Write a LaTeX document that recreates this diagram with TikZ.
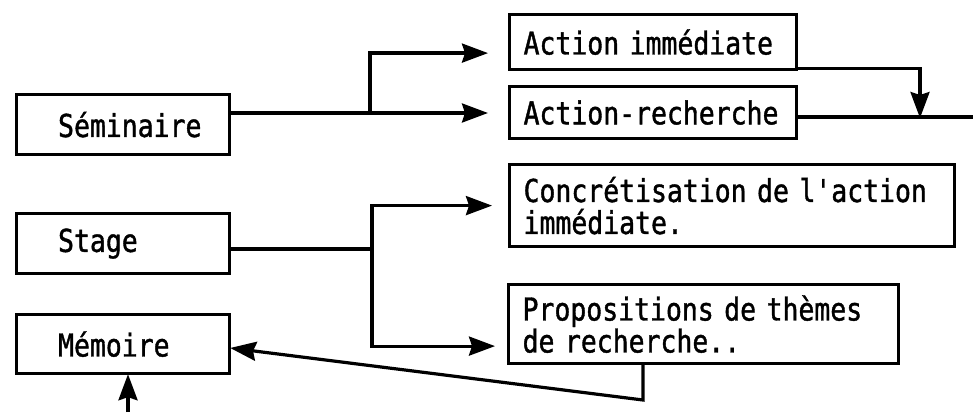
\documentclass[tikz,border=0pt]{standalone}
\usepackage{fontspec}
\newfontfamily\typo[FakeStretch=0.84,FakeBold=1.2]{DejaVu Sans Mono}
\usetikzlibrary{arrows.meta}
\tikzset{
  box/.style={draw, line width=3.2pt, anchor=north west, align=left,
    font=\typo\fontsize{31.5}{32}\selectfont},
  leftbox/.style={box, minimum width=213pt, minimum height=60pt,
    text width=170pt, inner xsep=21.5pt,
    execute at begin node={\hspace*{20pt}}},
  rightbox/.style={box, inner xsep=14pt},
  arr/.style={-{Stealth[length=26pt,width=19pt,inset=3pt]}},
}
\begin{document}
\begin{tikzpicture}[x=1pt,y=-1pt,line width=3.2pt]
      \useasboundingbox (0,0) rectangle (973,412);
      \node[leftbox] (sem) at (15,93) {Séminaire};
      \node[leftbox] (stage) at (15,212) {Stage};
      \node[leftbox, minimum height=59pt] (mem) at (15,313) {Mémoire};
      \node[rightbox, text width=259pt, minimum height=55pt] (imm) at (508,13) {Action immédiate};
      \node[rightbox, text width=259pt, minimum height=52pt] (rech) at (508,85) {Action-recherche};
      \node[rightbox, text width=417pt, minimum height=82pt] (concr) at (508,163) {Concrétisation de l'action\\immédiate.};
      \node[rightbox, text width=362pt, minimum height=79pt] (prop) at (507,283) {Propositions de thèmes\\de recherche..};
      \coordinate (b1) at (370,113);
      \coordinate (b2) at (372,249);
      \coordinate (b3) at (643,400);
      \coordinate (j2) at (920,117);
      \coordinate (out) at (973,117);
      \coordinate (in) at (128,412);
      \begin{scope}[shorten >=-1pt]
        \draw (sem.east |- b1) -- (b1);
        \draw[arr, shorten >=20pt] (b1) -- (b1 -| rech.west);
        \draw[arr, shorten >=20pt] (b1) |- ([yshift=-11pt]imm.west);
        \draw[arr] ([yshift=3pt]imm.south east) -| (j2);
        \draw (rech.east |- j2) -- (out);
        \draw (stage.east |- b2) -- (b2);
        \draw[arr, shorten >=16pt] (b2) |- (concr.west);
        \draw[arr, shorten >=12pt] (b2) |- ([yshift=-22pt]prop.west);
        \draw[arr] (prop.south -| b3) -- (b3) -- ([yshift=-4pt]mem.east);
        \draw[arr] (in) -- (in |- mem.south);
      \end{scope}
    \end{tikzpicture}
\end{document}
